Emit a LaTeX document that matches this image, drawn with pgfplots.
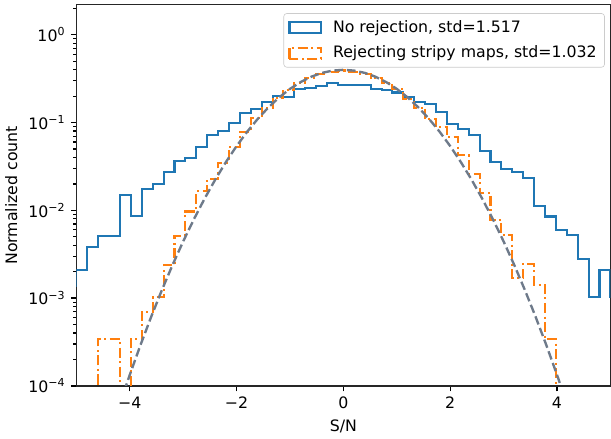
\documentclass[border=0pt]{standalone}
\usepackage{fontspec}
\setmainfont{DejaVu Sans}
\usepackage{pgfplots}
\pgfplotsset{compat=1.18}
\definecolor{mplblue}{HTML}{1F77B4}
\definecolor{mplorange}{HTML}{FF7F0E}
\definecolor{fitgray}{HTML}{6E7A8A}
\begin{document}
\begin{tikzpicture}
\begin{axis}[
  scale only axis, width=339pt, height=242pt,
  xmin=-5, xmax=5, ymode=log, ymin=1e-4, ymax=2.2,
  xtick={-4,-2,0,2,4}, xticklabels={−4,−2,0,2,4},
  ytick={1e-4,1e-3,1e-2,1e-1,1},
  yticklabels={10\textsuperscript{−4},10\textsuperscript{−3},10\textsuperscript{−2},10\textsuperscript{−1},10\textsuperscript{0}},
  minor ytick={2e-4,3e-4,4e-4,5e-4,6e-4,7e-4,8e-4,9e-4,2e-3,3e-3,4e-3,5e-3,6e-3,7e-3,8e-3,9e-3,2e-2,3e-2,4e-2,5e-2,6e-2,7e-2,8e-2,9e-2,0.2,0.3,0.4,0.5,0.6,0.7,0.8,0.9,2},
  tick align=outside, tick pos=left,
  major tick length=3.5pt, minor tick length=2pt,
  every tick/.style={black, line width=0.8pt},
  axis line style={line width=0.8pt, black!85},
  xlabel={S/N}, ylabel={Normalized count},
  legend cell align=left,
  legend style={at={(0.9897,0.978)}, anchor=north east, draw=black!20, rounded corners=2pt,
    fill=white, fill opacity=0.8, text opacity=1, font=\fontsize{10}{12}\selectfont,
    inner xsep=3pt, inner ysep=2.5pt, row sep=3pt,
    /tikz/every odd column/.append style={column sep=5pt}},
]
\addplot[const plot, mplblue, line width=1.3pt,
  legend image code/.code={\draw[sharp corners, mplblue, line width=1.3pt] (0pt,-3.5pt) rectangle (20pt,3.5pt);}]
coordinates {
(-5.2041,0.00139) (-5.0,0.00207) (-4.7959,0.00385) (-4.5918,0.00514) (-4.3878,0.00514)
(-4.1837,0.0148) (-3.9796,0.00867) (-3.7755,0.0177) (-3.5714,0.0200) (-3.3673,0.0273)
(-3.1633,0.0366) (-2.9592,0.0399) (-2.7551,0.0530) (-2.5510,0.0721) (-2.3469,0.0794)
(-2.1429,0.0982) (-1.9388,0.130) (-1.7347,0.144) (-1.5306,0.171) (-1.3265,0.200)
(-1.1224,0.197) (-0.9184,0.244) (-0.7143,0.248) (-0.5102,0.262) (-0.3061,0.279)
(-0.1020,0.268) (0.1020,0.267) (0.3061,0.266) (0.5102,0.244) (0.7143,0.233)
(0.9184,0.220) (1.1224,0.196) (1.3265,0.171) (1.5306,0.164) (1.7347,0.132)
(1.9388,0.0966) (2.1429,0.0845) (2.3469,0.0721) (2.5510,0.0477) (2.7551,0.0359)
(2.9592,0.0293) (3.1633,0.0273) (3.3673,0.0235) (3.5714,0.0111) (3.7755,0.00851)
(3.9796,0.00590) (4.1837,0.00528) (4.3878,0.00282) (4.5918,0.00104) (4.7959,0.00207)
(5.0,0.00104) (5.2041,0.00104)
};
\addlegendentry{No rejection, std=1.517}
\addplot[const plot, mplorange, line width=1.3pt, dash pattern=on 6.4pt off 2.2pt on 1.3pt off 2.2pt,
  legend image code/.code={\draw[sharp corners, mplorange, line width=1.3pt, dash pattern=on 6.4pt off 2.2pt on 1.3pt off 2.2pt] (0pt,-3.5pt) rectangle (20pt,3.5pt);}]
coordinates {
(-5.2041,1e-6) (-5.0,1e-6) (-4.7959,1e-6) (-4.5918,3.44e-4) (-4.3878,3.44e-4)
(-4.1837,1e-6) (-3.9796,3.44e-4) (-3.7755,7.0e-4) (-3.5714,1.02e-3) (-3.3673,2.40e-3)
(-3.1633,5.14e-3) (-2.9592,0.0097) (-2.7551,0.0165) (-2.5510,0.0225) (-2.3469,0.035)
(-2.1429,0.053) (-1.9388,0.079) (-1.7347,0.112) (-1.5306,0.148) (-1.3265,0.19)
(-1.1224,0.235) (-0.9184,0.283) (-0.7143,0.322) (-0.5102,0.355) (-0.3061,0.378)
(-0.1020,0.392) (0.1020,0.38) (0.3061,0.36) (0.5102,0.325) (0.7143,0.283)
(0.9184,0.24) (1.1224,0.185) (1.3265,0.148) (1.5306,0.11) (1.7347,0.0883)
(1.9388,0.0678) (2.1429,0.0425) (2.3469,0.0257) (2.5510,0.0158) (2.7551,0.0078)
(2.9592,0.00523) (3.1633,0.00169) (3.3673,0.00247) (3.5714,0.00142) (3.7755,3.44e-4)
(3.9796,1e-6) (4.1837,1e-6)
};
\addlegendentry{Rejecting stripy maps, std=1.032}
\addplot[fitgray, line width=1.5pt, dash pattern=on 5.5pt off 2.4pt, forget plot]
coordinates {
(-4.4,0.0000249) (-4.2,0.0000589) (-4.0,0.000134) (-3.8,0.000292) (-3.6,0.000612)
(-3.4,0.001232) (-3.2,0.002384) (-3.0,0.004432) (-2.8,0.007915) (-2.6,0.013583)
(-2.4,0.022395) (-2.2,0.035475) (-2.0,0.053991) (-1.8,0.078950) (-1.6,0.110921)
(-1.4,0.149727) (-1.2,0.194186) (-1.0,0.241971) (-0.8,0.289692) (-0.6,0.333225)
(-0.4,0.368270) (-0.2,0.391043) (0.0,0.398942) (0.2,0.391043) (0.4,0.368270)
(0.6,0.333225) (0.8,0.289692) (1.0,0.241971) (1.2,0.194186) (1.4,0.149727)
(1.6,0.110921) (1.8,0.078950) (2.0,0.053991) (2.2,0.035475) (2.4,0.022395)
(2.6,0.013583) (2.8,0.007915) (3.0,0.004432) (3.2,0.002384) (3.4,0.001232)
(3.6,0.000612) (3.8,0.000292) (4.0,0.000134) (4.2,0.0000589) (4.4,0.0000249)
};
\end{axis}
\path ([yshift=3pt]current axis.north east);
\end{tikzpicture}
\end{document}
